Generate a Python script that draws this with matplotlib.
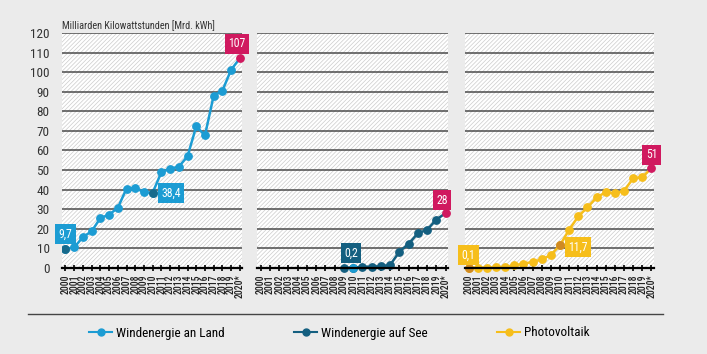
import numpy as np
import matplotlib.pyplot as plt
from matplotlib import font_manager
from matplotlib.patches import Rectangle
from matplotlib.lines import Line2D

# pick a condensed face if one is around
names = {f.name for f in font_manager.fontManager.ttflist}
cands = ['Roboto Condensed', 'DejaVu Sans Condensed', 'Liberation Sans Narrow', 'Open Sans Condensed']
fam = [n for n in cands if n in names] + ['DejaVu Sans']
plt.rcParams['font.family'] = fam
plt.rcParams['hatch.linewidth'] = 0.5
plt.rcParams['hatch.color'] = '#cccccc'

# data (Mrd. kWh)
years = ['2000', '2001', '2002', '2003', '2004', '2005', '2006', '2007', '2008', '2009',
         '2010', '2011', '2012', '2013', '2014', '2015', '2016', '2017', '2018', '2019', '2020*']
wind_land = [9.7, 10.5, 15.8, 18.7, 25.5, 27.2, 30.7, 40.5, 41.0, 38.6,
             38.4, 48.9, 50.7, 51.7, 57.0, 72.3, 67.7, 88.0, 90.5, 101.2, 107]
wind_see_years = ['2009', '2010', '2011', '2012', '2013', '2014', '2015', '2016', '2017', '2018', '2019', '2020*']
wind_see = [0.04, 0.2, 0.6, 0.7, 0.9, 1.5, 8.3, 12.3, 17.7, 19.5, 24.7, 28]
pv = [0.1, 0.1, 0.2, 0.3, 0.6, 1.3, 2.2, 3.1, 4.4, 6.6,
      11.7, 19.6, 26.4, 31.0, 36.0, 38.7, 38.1, 39.4, 45.8, 46.4, 51]

c_land = '#1c9cd3'
c_land_dark = '#176a8c'
c_see = '#145f80'
c_see_light = '#1c9cd3'
c_pv = '#f6be1b'
c_pv_dark = '#d08a22'
c_mag = '#d0195f'
bg = '#ebebeb'
ms = 5.3

fig = plt.figure(figsize=(7.07, 3.54), dpi=100)
fig.patch.set_facecolor(bg)


def setup_panel(rect, show_labels):
    ax = fig.add_axes(rect)
    ax.set_facecolor('white')
    ax.add_patch(Rectangle((0, 0), 1, 1, transform=ax.transAxes, facecolor='white',
                           edgecolor='#cccccc', hatch='////////', lw=0, zorder=0))
    ax.set_xlim(-0.4, 20.25)
    ax.set_ylim(0, 120)
    ax.set_yticks(np.arange(0, 121, 10))
    ax.set_xticks(range(len(years)))
    ax.set_xticklabels(years, rotation=90, fontsize=7, color='#222', fontweight='medium')
    for s in ['top', 'right', 'left']:
        ax.spines[s].set_visible(False)
    ax.spines['bottom'].set_linewidth(1.6)
    ax.spines['bottom'].set_zorder(5)
    ax.grid(axis='y', color='#4a4a4a', lw=1.1, zorder=1)
    ax.tick_params(axis='x', direction='inout', length=5, width=1.2, pad=2)
    ax.tick_params(axis='y', length=0, labelsize=9.5, labelcolor='#333', pad=9)
    if not show_labels:
        ax.set_yticklabels([])
    return ax


def box(ax, x, y, txt, color, ha='center'):
    ax.text(x, y, txt, ha=ha, va='center', fontsize=8.5, color='white', zorder=10,
            bbox=dict(boxstyle='square,pad=0.28', fc=color, ec='none'), clip_on=False)


# Windenergie an Land
ax1 = setup_panel([0.0877, 0.243, 0.2546, 0.664], True)
x1 = np.arange(len(years))
ax1.plot(x1[:-1], wind_land[:-1], color=c_land, lw=1.8, marker='o', ms=ms, zorder=3)
ax1.plot(x1[-2:], wind_land[-2:], color=c_land, lw=1.8, zorder=3)
ax1.plot(x1[-1], wind_land[-1], 'o', color=c_mag, ms=ms, zorder=4, clip_on=False)
ax1.plot([x1[0], x1[10]], [wind_land[0], wind_land[10]], 'o', color=c_land_dark, ms=ms, zorder=4)
box(ax1, 0, 17.4, '9,7', c_land)
box(ax1, 11.0, 38.3, '38,4', c_land, ha='left')
box(ax1, 19.7, 114.4, '107', c_mag)
fig.text(0.0877, 0.912, 'Milliarden Kilowattstunden [Mrd. kWh]', fontsize=7.3, color='#333',
         ha='left', va='bottom')

# Windenergie auf See
ax2 = setup_panel([0.3635, 0.243, 0.270, 0.664], False)
x2 = np.array([years.index(y) for y in wind_see_years])
ax2.plot(x2[:-1], wind_see[:-1], color=c_see, lw=1.8, marker='o', ms=ms, zorder=3, clip_on=False)
ax2.plot(x2[-2:], wind_see[-2:], color=c_see, lw=1.8, zorder=3)
ax2.plot(x2[-1], wind_see[-1], 'o', color=c_mag, ms=ms, zorder=4, clip_on=False)
ax2.plot(x2[1], wind_see[1], 'o', color=c_see_light, ms=ms, zorder=4, clip_on=False)
box(ax2, 9.8, 7.6, '0,2', c_see)
box(ax2, 19.6, 34.7, '28', c_mag)

# Photovoltaik
ax3 = setup_panel([0.6577, 0.243, 0.267, 0.664], False)
ax3.plot(x1[:-1], pv[:-1], color=c_pv, lw=1.8, marker='o', ms=ms, zorder=3, clip_on=False)
ax3.plot(x1[-2:], pv[-2:], color=c_pv, lw=1.8, zorder=3)
ax3.plot(x1[-1], pv[-1], 'o', color=c_mag, ms=ms, zorder=4, clip_on=False)
ax3.plot([x1[0], x1[10]], [pv[0], pv[10]], 'o', color=c_pv_dark, ms=ms, zorder=4, clip_on=False)
box(ax3, 0, 6.6, '0,1', c_pv)
box(ax3, 10.9, 10.7, '11,7', c_pv, ha='left')
box(ax3, 20, 57.7, '51', c_mag)

# separator and legend
fig.add_artist(Line2D([28 / 707, 663 / 707], [1 - 314 / 354] * 2, color='#444', lw=1))
handles = [Line2D([], [], color=c, lw=1.5, marker='o', ms=5) for c in (c_land, c_see, c_pv)]
fig.legend(handles, ['Windenergie an Land', 'Windenergie auf See', 'Photovoltaik'],
           loc='center', bbox_to_anchor=(0.48, 1 - 333 / 354), ncol=3, frameon=False,
           fontsize=9.5, handlelength=1.8, handletextpad=0.3, columnspacing=5.2)

fig.savefig('out.png', dpi=100, facecolor=bg)
